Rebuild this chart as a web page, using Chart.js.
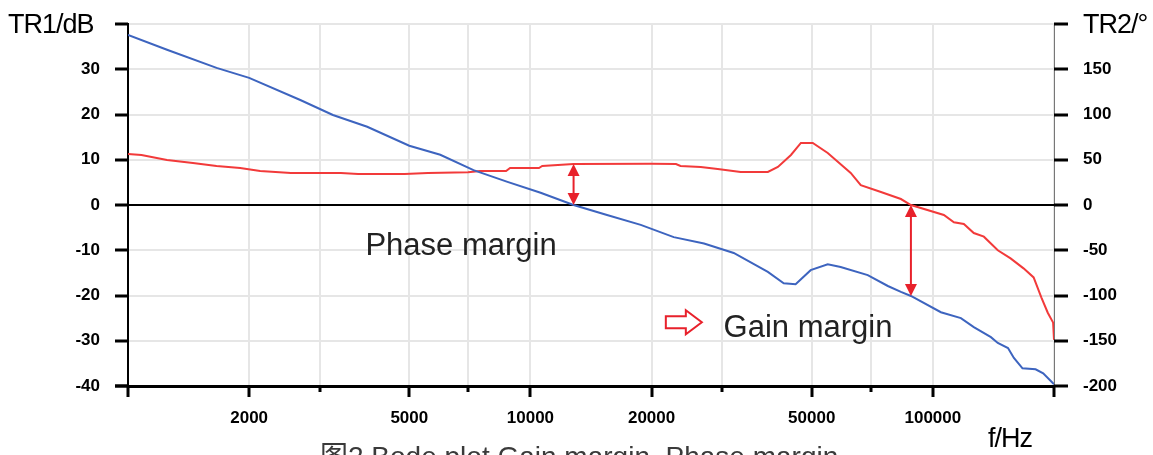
<!DOCTYPE html>
<html lang="en"><head><meta charset="UTF-8">
<title>Bode plot</title>
<script src="https://cdn.jsdelivr.net/npm/chart.js"></script>
<style>
    body {
        margin: 0;
        background: #fff;
        overflow: hidden;
    }
    #wrap {
        position: relative;
        width: 1153px;
        height: 455px;
    }
</style>
</head>
<body>
<div id="wrap"><canvas id="bode" width="1153" height="455"></canvas></div>
<script>
// gain curve (TR1, dB)
const gainFreq = [1000, 1250, 1660, 2000, 2680, 3230, 3930, 5000, 5970, 7220, 8770, 10600, 12800, 15500, 18800, 22700, 27000,
    32000, 38900, 42600, 45600, 49700, 54800, 59000, 68900, 77300, 83300, 88200, 104700, 117400, 126400, 139400, 145000,
    153700, 159000, 167000, 180000, 188000, 200000];
const gainDb = [37.6, 34.3, 30.3, 28.1, 23.2, 19.9, 17.3, 13.1, 11.1, 7.7, 5.1, 2.7, 0, -2.2, -4.4, -7.1, -8.5,
    -10.6, -14.8, -17.3, -17.5, -14.4, -13.1, -13.7, -15.5, -17.9, -19.2, -20.1, -23.7, -25.0, -27.0, -29.2, -30.5,
    -31.6, -33.8, -36.1, -36.3, -37.2, -39.6];

// phase curve (TR2, degrees)
const phaseFreq = [1000, 1080, 1250, 1450, 1660, 1900, 2130, 2540, 3380, 3730, 4870, 5560, 7000, 7500, 8700, 8900, 10500,
    10700, 12800, 20000, 23000, 23600, 26500, 29200, 33300, 38900, 41200, 44400, 47000, 50300, 54800, 62500, 66200,
    74300, 83300, 88200, 106500, 112800, 119400, 126400, 133900, 145000, 156000, 168000, 178000, 186000, 193000, 199000, 200000];
const phaseDeg = [56.4, 55.3, 49.8, 46.5, 43.1, 40.9, 37.6, 35.4, 35.4, 34.3, 34.3, 35.4, 36.2, 37.6, 37.6, 40.9, 40.9,
    43.1, 45.3, 45.6, 45.3, 43.1, 42.0, 39.8, 36.5, 36.5, 42.0, 55.3, 68.6, 68.6, 57.5, 35.4, 22.0,
    14.4, 6.6, 0, -11, -19, -21, -31, -35, -50, -59, -70, -80, -102, -119, -130, -149];

// axes
const xTickVals = [1000, 2000, 3000, 5000, 7000, 10000, 20000, 30000, 50000, 70000, 100000, 200000];
const xMajorVals = [1000, 2000, 5000, 10000, 20000, 50000, 100000, 200000];
const xLabelVals = [2000, 5000, 10000, 20000, 50000, 100000];
const dbTicks = [-40, -30, -20, -10, 0, 10, 20, 30, 40];
const degTicks = [-200, -150, -100, -50, 0, 50, 100, 150, 200];

// margins: frequency and the two ends of each arrow
const phaseMarginAt = {f: 12800, deg: 45.3, db: 0};
const gainMarginAt = {f: 88200, dbTop: 0, dbBottom: -20.1};

const RED = '#e8212b';
const tickFont = {family: '"Liberation Sans", Arial, sans-serif', size: 17, weight: 'bold'};

function toPoints(xs, ys) {
    return xs.map((v, i) => ({x: v, y: ys[i]}));
}

function line(ctx, x1, y1, x2, y2) {
    ctx.beginPath();
    ctx.moveTo(x1, y1);
    ctx.lineTo(x2, y2);
    ctx.stroke();
}

function noPad(s) {
    s.paddingTop = 0;
    s.paddingBottom = 0;
    s.paddingLeft = 0;
    s.paddingRight = 0;
}

function doubleArrow(ctx, x, yTop, yBot) {
    ctx.strokeStyle = RED;
    ctx.fillStyle = RED;
    ctx.lineWidth = 2;
    line(ctx, x, yTop + 8, x, yBot - 8);
    ctx.beginPath();
    ctx.moveTo(x, yTop); ctx.lineTo(x - 6, yTop + 12); ctx.lineTo(x + 6, yTop + 12); ctx.closePath();
    ctx.fill();
    ctx.beginPath();
    ctx.moveTo(x, yBot); ctx.lineTo(x - 6, yBot - 12); ctx.lineTo(x + 6, yBot - 12); ctx.closePath();
    ctx.fill();
}

const zeroLine = {
    id: 'zeroLine',
    beforeDatasetsDraw(chart) {
        const {ctx, chartArea, scales: {y}} = chart;
        const py = Math.round(y.getPixelForValue(0));
        ctx.save();
        ctx.strokeStyle = '#000';
        ctx.lineWidth = 2;
        line(ctx, chartArea.left, py, chartArea.right, py);
        ctx.restore();
    }
};

const overlay = {
    id: 'overlay',
    afterDraw(chart) {
        const {ctx, chartArea, scales: {x, y, y2}} = chart;
        ctx.save();
        // tick marks
        ctx.strokeStyle = '#000';
        ctx.lineWidth = 3;
        dbTicks.forEach(v => {
            const py = Math.round(y.getPixelForValue(v));
            line(ctx, chartArea.left - 13, py, chartArea.left, py);
        });
        degTicks.forEach(v => {
            const py = Math.round(y2.getPixelForValue(v));
            line(ctx, chartArea.right, py, chartArea.right + 14, py);
        });
        xTickVals.forEach(v => {
            const px = Math.round(x.getPixelForValue(v));
            const len = xMajorVals.includes(v) ? 11 : 6;
            line(ctx, px, chartArea.bottom, px, chartArea.bottom + len);
        });
        line(ctx, chartArea.left - 13, chartArea.bottom, chartArea.left, chartArea.bottom);

        // margin arrows
        doubleArrow(ctx, x.getPixelForValue(phaseMarginAt.f), y2.getPixelForValue(phaseMarginAt.deg), y.getPixelForValue(phaseMarginAt.db));
        doubleArrow(ctx, x.getPixelForValue(gainMarginAt.f), y.getPixelForValue(gainMarginAt.dbTop), y.getPixelForValue(gainMarginAt.dbBottom));

        // hollow arrow
        const ax = x.getPixelForValue(21700), ay = y.getPixelForValue(-25.9);
        ctx.strokeStyle = RED;
        ctx.fillStyle = '#fff';
        ctx.lineWidth = 2;
        ctx.beginPath();
        ctx.moveTo(ax, ay - 6); ctx.lineTo(ax + 20, ay - 6); ctx.lineTo(ax + 20, ay - 12);
        ctx.lineTo(ax + 36, ay); ctx.lineTo(ax + 20, ay + 12); ctx.lineTo(ax + 20, ay + 6);
        ctx.lineTo(ax, ay + 6); ctx.closePath();
        ctx.fill();
        ctx.stroke();

        // texts
        ctx.fillStyle = '#222';
        ctx.font = '31px "Liberation Sans", Arial, sans-serif';
        ctx.textBaseline = 'alphabetic';
        ctx.fillText('Phase margin', x.getPixelForValue(3890), y.getPixelForValue(-11.0));
        ctx.fillText('Gain margin', x.getPixelForValue(30200), y.getPixelForValue(-29.2));

        ctx.fillStyle = '#000';
        ctx.font = '27px "Liberation Sans", Arial, sans-serif';
        ctx.letterSpacing = '-1px';
        ctx.fillText('TR1/dB', 8, 33);
        ctx.fillText('TR2/°', 1083, 33);
        ctx.fillText('f/Hz', 988, 447);
        ctx.letterSpacing = '0px';

        ctx.fillStyle = '#3a3a3a';
        ctx.font = '28px "Liberation Sans", "Noto Sans CJK SC", Arial, sans-serif';
        ctx.fillText('图2 Bode plot Gain margin, Phase margin', 320, 466);
        ctx.restore();
    }
};

new Chart(document.getElementById('bode'), {
    type: 'line',
    data: {
        datasets: [
            {
                label: 'TR1',
                data: toPoints(gainFreq, gainDb),
                yAxisID: 'y',
                borderColor: '#3d64bf',
                borderWidth: 2,
                pointRadius: 0,
                tension: 0
            },
            {
                label: 'TR2',
                data: toPoints(phaseFreq, phaseDeg),
                yAxisID: 'y2',
                borderColor: '#f23a3a',
                borderWidth: 2,
                pointRadius: 0,
                tension: 0
            }
        ]
    },
    options: {
        responsive: false,
        animation: false,
        layout: {padding: {top: 24, left: 0, right: 0, bottom: 0}},
        plugins: {legend: {display: false}, tooltip: {enabled: false}},
        scales: {
            x: {
                type: 'logarithmic',
                min: 1000,
                max: 200000,
                afterBuildTicks: s => { s.ticks = xTickVals.map(v => ({value: v})); },
                afterFit: s => { s.height = 69; noPad(s); },
                ticks: {
                    autoSkip: false,
                    maxRotation: 0,
                    padding: 22,
                    color: '#000',
                    font: tickFont,
                    callback: v => xLabelVals.includes(v) ? String(v) : ''
                },
                grid: {color: '#e6e6e6', lineWidth: 2, drawTicks: false},
                border: {color: '#000', width: 3}
            },
            y: {
                position: 'left',
                min: -40,
                max: 40,
                afterBuildTicks: s => { s.ticks = dbTicks.map(v => ({value: v})); },
                afterFit: s => { s.width = 128; noPad(s); },
                ticks: {
                    padding: 28,
                    color: '#000',
                    font: tickFont,
                    callback: v => v === 40 ? '' : String(v)
                },
                grid: {color: '#e6e6e6', lineWidth: 2, drawTicks: false},
                border: {color: '#000', width: 2}
            },
            y2: {
                position: 'right',
                min: -200,
                max: 200,
                afterBuildTicks: s => { s.ticks = degTicks.map(v => ({value: v})); },
                afterFit: s => { s.width = 99; noPad(s); },
                ticks: {
                    padding: 29,
                    color: '#000',
                    font: tickFont,
                    callback: v => v === 200 ? '' : String(v)
                },
                grid: {display: false, drawTicks: false},
                border: {color: '#777', width: 1}
            }
        }
    },
    plugins: [zeroLine, overlay]
});
</script>
</body>
</html>
